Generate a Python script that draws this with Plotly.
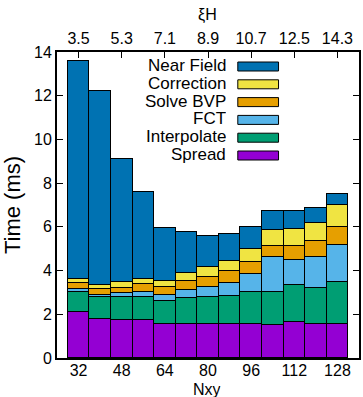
import plotly.graph_objects as go

# Grid size (Nxy) and matching xi*H labels on the top axis
nxy = [32, 40, 48, 56, 64, 72, 80, 88, 96, 104, 112, 120, 128]
nxy_ticks = [32, 48, 64, 80, 96, 112, 128]
xi_h_labels = ["3.5", "5.3", "7.1", "8.9", "10.7", "12.5", "14.3"]

# Per-stage timings in ms (stacked bottom to top)
spread = [2.10, 1.80, 1.76, 1.73, 1.55, 1.55, 1.57, 1.55, 1.57, 1.51, 1.64, 1.57, 1.57]
interpolate = [0.94, 1.01, 1.02, 1.07, 1.05, 1.19, 1.21, 1.29, 1.44, 1.50, 1.71, 1.65, 1.90]
fct = [0.12, 0.09, 0.19, 0.24, 0.30, 0.35, 0.46, 0.58, 0.82, 1.60, 1.14, 1.41, 1.69]
solve_bvp = [0.26, 0.25, 0.24, 0.34, 0.36, 0.44, 0.47, 0.57, 0.57, 0.53, 0.65, 0.73, 0.82]
correction = [0.19, 0.21, 0.26, 0.24, 0.28, 0.35, 0.45, 0.47, 0.59, 0.72, 0.78, 0.80, 1.01]
near_field = [9.98, 8.86, 5.63, 3.96, 2.42, 1.89, 1.44, 1.23, 1.00, 0.85, 0.79, 0.69, 0.51]

stages = [
    ("Spread", spread, "#9400D3"),
    ("Interpolate", interpolate, "#009E73"),
    ("FCT", fct, "#56B4E9"),
    ("Solve BVP", solve_bvp, "#E69F00"),
    ("Correction", correction, "#F0E442"),
    ("Near Field", near_field, "#0072B2"),
]

FONT = "Liberation Sans, Arial, sans-serif"
W, H = 363, 397
ML, MR, MT, MB = 57, 2, 52, 39

fig = go.Figure()
for name, vals, color in stages:
    fig.add_trace(go.Bar(
        x=nxy, y=vals, name=name, width=8,
        marker=dict(color=color, line=dict(color="black", width=1)),
        showlegend=False,
    ))

# invisible trace so the top (xi*H) axis is drawn
fig.add_trace(go.Scatter(x=nxy_ticks, y=[None] * len(nxy_ticks), xaxis="x2",
                         showlegend=False, hoverinfo="skip"))


def px_x(p):
    return (p - ML) / (W - ML - MR)


def px_y(p):
    return (H - MB - p) / (H - MT - MB)


# legend: right-aligned labels with swatches to the right
legend_order = ["Near Field", "Correction", "Solve BVP", "FCT", "Interpolate", "Spread"]
colors = {n: c for n, _, c in stages}
row0, step = 66.5, 17.8
for i, name in enumerate(legend_order):
    cy = row0 + i * step
    fig.add_shape(type="rect", xref="paper", yref="paper",
                  x0=px_x(239), x1=px_x(280), y0=px_y(cy - 4.5), y1=px_y(cy + 4.5),
                  fillcolor=colors[name], line=dict(color="black", width=1))
    fig.add_annotation(xref="paper", yref="paper", x=px_x(229), y=px_y(cy - 1),
                       text=name, showarrow=False, xanchor="right", yanchor="middle",
                       height=17, font=dict(family=FONT, size=17, color="black"))

# axis titles
fig.add_annotation(xref="paper", yref="paper", x=px_x(208), y=px_y(389), text="Nxy",
                   showarrow=False, xanchor="center", yanchor="middle", height=16,
                   font=dict(family=FONT, size=16, color="black"))
fig.add_annotation(xref="paper", yref="paper", x=px_x(208), y=px_y(15), text="ξH",
                   showarrow=False, xanchor="center", yanchor="middle",
                   font=dict(family=FONT, size=16, color="black"))

axis_common = dict(showgrid=False, zeroline=False, linecolor="black", linewidth=2,
                   tickfont=dict(family=FONT, size=16, color="black"))

fig.update_layout(
    width=W, height=H,
    margin=dict(l=ML, r=MR, t=MT, b=MB),
    paper_bgcolor="white", plot_bgcolor="white",
    barmode="stack", bargap=0,
    xaxis=dict(range=[24, 136], tickvals=nxy_ticks, ticks="", showline=True, mirror=True,
               ticklabelstandoff=-3, **axis_common),
    xaxis2=dict(range=[24, 136], overlaying="x", side="top", tickvals=nxy_ticks,
                ticktext=xi_h_labels, ticks="inside", ticklen=6, tickcolor="black", tickwidth=1,
                **axis_common),
    yaxis=dict(range=[0, 14], tickvals=[0, 2, 4, 6, 8, 10, 12, 14], ticks="inside", ticklen=6,
               tickcolor="black", tickwidth=1, showline=True, mirror="ticks",
               title=dict(text="Time (ms)", font=dict(family=FONT, size=22, color="black"), standoff=8),
               **axis_common),
)

fig.write_html("out.html")
